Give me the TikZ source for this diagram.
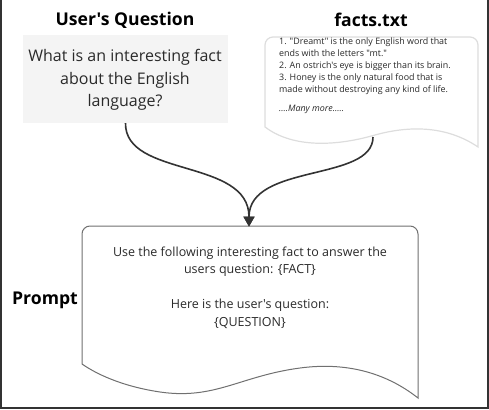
\documentclass[tikz,border=0pt]{standalone}
\usepackage{fontspec}
\setmainfont{Open Sans}[Ligatures=TeXOff]
\usetikzlibrary{arrows.meta}
\newcommand\sqt{\symbol{39}}
\newcommand\dqt{\symbol{34}}
\definecolor{frameC}{HTML}{333333}
\definecolor{qfill}{HTML}{F4F4F4}
\definecolor{factline}{HTML}{DDDDDD}
\definecolor{promptline}{HTML}{707070}
\definecolor{txt}{HTML}{2A2A2A}
\tikzset{
  title/.style={font=\bfseries\fontsize{17.6}{20}\selectfont, text=black, inner sep=0pt},
  qtext/.style={font=\fontsize{16}{22.5}\selectfont, text=txt, align=center, inner sep=0pt},
  ftext/.style={font=\fontsize{8.9}{12}\selectfont, text=txt, align=left, inner sep=0pt, anchor=north west},
  ptext/.style={font=\fontsize{12.5}{17.5}\selectfont, text=txt, align=center, inner sep=0pt},
  conn/.style={draw=frameC, line width=1.6pt, -{Triangle[length=10pt,width=11pt]}},
}
\begin{document}
\begin{tikzpicture}[x=1pt,y=-1pt]
\useasboundingbox (0,0) rectangle (489,409);
% frame
\draw[frameC, line width=1.6pt] (0.8,0) -- (0.8,408.2) -- (488.2,408.2) -- (488.2,0);
% titles
\node[title] (tq) at (125,20) {User\sqt s Question};
\node[title] (tf) at (371,20) {facts.txt};
\node[title] (tp) at (45,300) {Prompt};
% question box
\node[fill=qfill, minimum width=205pt, minimum height=88pt, inner sep=0pt] (q) at (125.5,79) {};
\node[qtext] (qt) at (125,80) {What is an interesting fact\\about the English\\language?};
% facts document
\draw[factline, line width=1.2pt, fill=white]
  (265,127) -- (265,45) arc[start angle=180, end angle=270, radius=8] -- (470,37)
  arc[start angle=-90, end angle=0, radius=8] -- (478,147)
  .. controls (450,128) and (415,124) .. (375,135)
  .. controls (330,148) and (290,146) .. cycle;
\node[ftext] (ft) at (279,37.5) {1. \dqt Dreamt\dqt{} is the only English word that\\ends with the letters \dqt mt.\dqt\\2. An ostrich\sqt s eye is bigger than its brain.\\3. Honey is the only natural food that is\\made without destroying any kind of life.\\[7pt]\textit{....Many more.....}};
\coordinate (fb) at (373,137);
% prompt document
\draw[promptline, line width=1pt, fill=white]
  (82,364) -- (82,234) arc[start angle=180, end angle=270, radius=8] -- (410,226)
  arc[start angle=-90, end angle=0, radius=8] -- (418,398)
  .. controls (385,372) and (345,362) .. (300,368)
  .. controls (240,376) and (215,400) .. (160,392)
  .. controls (120,386) and (95,373) .. cycle;
\coordinate (pt) at (249,226.5);
\node[ptext] (pt1) at (250,261.5) {Use the following interesting fact to answer the\\users question: \{FACT\}};
\node[ptext] (pt2) at (250,314) {Here is the user\sqt s question:\\\{QUESTION\}};
% connectors
\draw[conn] (q.south) .. controls (125,178) and (249,158) .. (pt);
\draw[conn] (fb) .. controls (373,182) and (249,163) .. (pt);
\end{tikzpicture}
\end{document}
